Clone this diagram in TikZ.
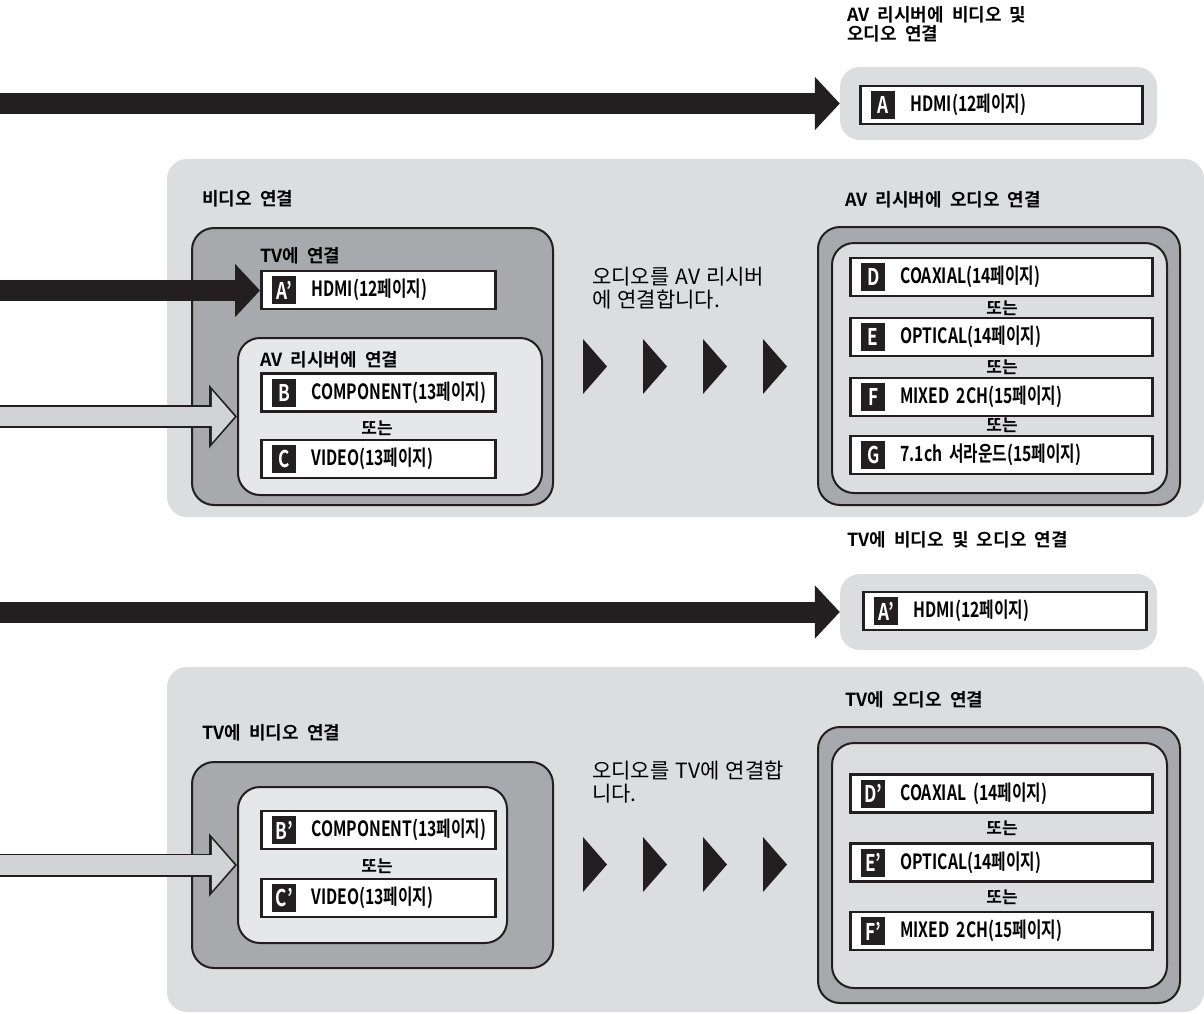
\documentclass[tikz,border=0pt]{standalone}
\usepackage{fontspec}
\usetikzlibrary{arrows.meta, positioning}
\newfontfamily\itemfont[FakeStretch=0.75]{Noto Sans CJK KR Bold}
\newfontfamily\headfont[WordSpace=2]{Noto Sans CJK KR Bold}
\newfontfamily\bodyfont[WordSpace=1.3]{Noto Sans CJK KR}
\definecolor{panelgray}{RGB}{220,221,223}
\definecolor{boxgray}{RGB}{167,169,172}
\definecolor{innerlight}{RGB}{230,231,232}
\definecolor{arrowlight}{RGB}{209,211,212}
\definecolor{inkblack}{RGB}{35,31,32}

\begin{document}
\begin{tikzpicture}[x=1pt, y=-1pt,
  panel/.style={fill=panelgray, rounded corners=20pt, inner sep=0pt},
  darkbox/.style={draw=inkblack, line width=2pt, fill=boxgray, rounded corners=22pt, inner sep=0pt},
  innerbox/.style={draw=inkblack, line width=2pt, rounded corners=22pt, inner sep=0pt},
  itembox/.style={draw=inkblack, line width=2.6pt, fill=white, minimum height=38pt, inner xsep=0pt, inner ysep=0pt, align=left, font=\itemfont\fontsize{21}{24}\selectfont},
  badge/.style={fill=inkblack, text=white, minimum width=24pt, minimum height=28pt, inner sep=0pt, font=\itemfont\fontsize{23}{24}\selectfont},
  heading/.style={anchor=west, inner sep=0pt, align=left, font=\headfont\fontsize{18}{19}\selectfont},
  ortext/.style={inner sep=0pt, font=\headfont\fontsize{17}{19}\selectfont},
  bodytext/.style={anchor=north west, inner sep=0pt, align=left, font=\bodyfont\fontsize{21}{23}\selectfont},
  bigarrow/.style={draw=inkblack, line width=21pt, -{Triangle[length=25pt, width=52pt]}},
  hollowedge/.style={draw=inkblack, line width=23pt, -{Triangle[length=28pt, width=62pt]}},
  hollowfill/.style={draw=arrowlight, line width=19.4pt, shorten >=2.4pt, -{Triangle[length=22.8pt, width=51pt]}}]
  \useasboundingbox (0,0) rectangle (1204,1013);

  % grey panels
  \node[panel, minimum width=317pt, minimum height=73pt] (grpA) at (998.5,103.5) {};
  \node[panel, minimum width=1037pt, minimum height=358pt] (vidpanel) at (685.5,338) {};
  \node[panel, minimum width=317pt, minimum height=76pt] (grpA2) at (998.5,612) {};
  \node[panel, minimum width=1037pt, minimum height=345pt] (tvpanel) at (685.5,839.5) {};

  % dark boxes and inner boxes
  \node[darkbox, minimum width=361pt, minimum height=277pt] (viddark) at (372.5,366.5) {};
  \node[innerbox, fill=innerlight, minimum width=304pt, minimum height=157pt] (avrinner) at (390,416.5) {};
  \node[darkbox, minimum width=362pt, minimum height=278pt] (auddark) at (999,366) {};
  \node[innerbox, fill=panelgray, minimum width=335pt, minimum height=250pt] (audinner) at (999.5,368) {};
  \node[darkbox, minimum width=361pt, minimum height=206pt] (tvviddark) at (372.5,865) {};
  \node[innerbox, fill=innerlight, minimum width=269pt, minimum height=156pt] (tvvidinner) at (372.5,865) {};
  \node[darkbox, minimum width=362pt, minimum height=276pt] (tvauddark) at (999,865) {};
  \node[innerbox, fill=panelgray, minimum width=335pt, minimum height=245pt] (tvaudinner) at (999.5,865.5) {};

  % headings
  \node[heading, anchor=north west] (hAVboth) at (847,6) {AV 리시버에 비디오 및\\오디오 연결};
  \node[heading] (hVideo) at (202,199) {비디오 연결};
  \node[heading] (hToTV) at (260,256) {TV에 연결};
  \node[heading] (hToAVR) at (260,360) {AV 리시버에 연결};
  \node[heading] (hAVRaudio) at (845,200) {AV 리시버에 오디오 연결};
  \node[heading] (hTVboth) at (847,540) {TV에 비디오 및 오디오 연결};
  \node[heading] (hTVvideo) at (202,733) {TV에 비디오 연결};
  \node[heading] (hTVaudio) at (845,700) {TV에 오디오 연결};

  % connection items
  \node[itembox, text width=282.4pt, label={[badge, anchor=west, xshift=12pt]west:A}] (hdmiA) at (1001.5,105) {\hspace*{50pt}HDMI(12페이지)};
  \node[itembox, text width=234.4pt, label={[badge, anchor=west, xshift=12pt]west:A’}] (hdmiTV) at (378.5,290) {\hspace*{50pt}HDMI(12페이지)};
  \node[itembox, text width=234.4pt, label={[badge, anchor=west, xshift=12pt]west:B}] (compB) at (378.5,392.5) {\hspace*{50pt}COMPONENT(13페이지)};
  \node[itembox, text width=234.4pt, label={[badge, anchor=west, xshift=12pt]west:C}] (videoC) at (378.5,459) {\hspace*{50pt}VIDEO(13페이지)};
  \node[itembox, text width=302.4pt, label={[badge, anchor=west, xshift=12pt]west:D}] (coaxD) at (1001.5,277) {\hspace*{50pt}COAXIAL(14페이지)};
  \node[itembox, text width=302.4pt, label={[badge, anchor=west, xshift=12pt]west:E}] (optE) at (1001.5,337) {\hspace*{50pt}OPTICAL(14페이지)};
  \node[itembox, text width=302.4pt, label={[badge, anchor=west, xshift=12pt]west:F}] (mixF) at (1001.5,397) {\hspace*{50pt}MIXED 2CH(15페이지)};
  \node[itembox, text width=302.4pt, label={[badge, anchor=west, xshift=12pt]west:G}] (surrG) at (1001.5,455) {\hspace*{50pt}7.1ch 서라운드(15페이지)};
  \node[itembox, text width=283.4pt, label={[badge, anchor=west, xshift=12pt]west:A’}] (hdmiTV2) at (1005,611) {\hspace*{50pt}HDMI(12페이지)};
  \node[itembox, text width=234.4pt, label={[badge, anchor=west, xshift=12pt]west:B’}] (compB2) at (378.5,830) {\hspace*{50pt}COMPONENT(13페이지)};
  \node[itembox, text width=234.4pt, label={[badge, anchor=west, xshift=12pt]west:C’}] (videoC2) at (378.5,898) {\hspace*{50pt}VIDEO(13페이지)};
  \node[itembox, text width=302.4pt, label={[badge, anchor=west, xshift=12pt]west:D’}] (coaxD2) at (1001.5,793.5) {\hspace*{50pt}COAXIAL (14페이지)};
  \node[itembox, text width=302.4pt, label={[badge, anchor=west, xshift=12pt]west:E’}] (optE2) at (1001.5,862.5) {\hspace*{50pt}OPTICAL(14페이지)};
  \node[itembox, text width=302.4pt, label={[badge, anchor=west, xshift=12pt]west:F’}] (mixF2) at (1001.5,931) {\hspace*{50pt}MIXED 2CH(15페이지)};

  % "or" between items
  \node[ortext] (orBC) at (377,428) {또는};
  \node[ortext] (orDE) at (1002,308) {또는};
  \node[ortext] (orEF) at (1002,367) {또는};
  \node[ortext] (orFG) at (1002,425) {또는};
  \node[ortext] (orBC2) at (377,866) {또는};
  \node[ortext] (orDE2) at (1002,828) {또는};
  \node[ortext] (orEF2) at (1002,897) {또는};

  % notes and step triangles
  \node[bodytext] (noteAVR) at (592,267) {오디오를 AV 리시버\\에 연결합니다.};
  \node[bodytext] (noteTV) at (592,761) {오디오를 TV에 연결합\\니다.};
  \foreach \tx in {583,643,703,763} {
    \fill[inkblack] (\tx,339) -- ++(24,27.5) -- ++(-24,27.5) -- cycle;
    \fill[inkblack] (\tx,837) -- ++(24,27.5) -- ++(-24,27.5) -- cycle;
  }

  % incoming arrows
  \coordinate (inA) at (-5,103.5);
  \coordinate (inTV) at (-5,290.5);
  \coordinate (inAVR) at (-5,416.5);
  \coordinate (inA2) at (-5,612);
  \coordinate (inTV2) at (-5,865);
  \draw[bigarrow] (inA) -- (inA -| grpA.west);
  \draw[bigarrow] (inTV) -- (inTV -| hdmiTV.west);
  \draw[hollowedge] (inAVR) -- (inAVR -| avrinner.west);
  \draw[hollowfill] (inAVR) -- (inAVR -| avrinner.west);
  \draw[bigarrow] (inA2) -- (inA2 -| grpA2.west);
  \draw[hollowedge] (inTV2) -- (inTV2 -| tvvidinner.west);
  \draw[hollowfill] (inTV2) -- (inTV2 -| tvvidinner.west);
\end{tikzpicture}
\end{document}
